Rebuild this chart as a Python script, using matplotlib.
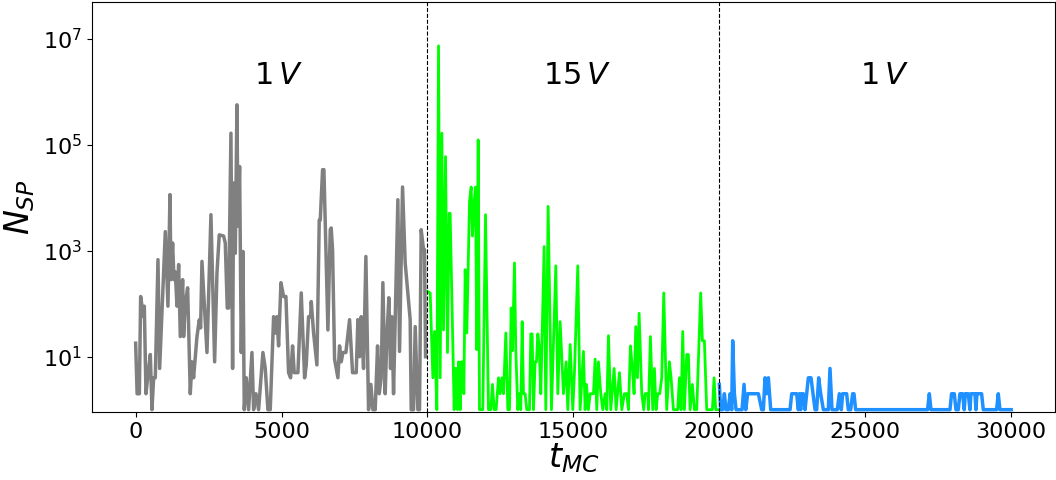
import matplotlib
matplotlib.use('Agg')
import matplotlib.pyplot as plt
from matplotlib.ticker import NullLocator

# Phase 1: 1 V (gray)
t_1v_a = [0, 50, 127, 171, 217, 274, 297, 354, 411, 503, 559, 616, 673, 765, 822,
          1016, 1107, 1176, 1210, 1267, 1313, 1359, 1416, 1473, 1530, 1610, 1644, 1701,
          1781, 1872, 1929, 1986, 2101, 2181, 2226, 2272, 2444, 2580, 2706, 2786, 2865,
          3014, 3071, 3139, 3185, 3265, 3322, 3357, 3414, 3471, 3505, 3562, 3619, 3676,
          3722, 3790, 3870, 3985, 4042, 4122, 4213, 4361, 4441, 4532, 4612, 4727, 4784,
          4841, 4898, 4978, 5069, 5149, 5240, 5309, 5377, 5434, 5560, 5674, 5789, 5846,
          5925, 5994, 6017, 6097, 6211, 6291, 6326, 6405, 6451, 6588, 6668, 6701, 6747,
          6816, 6930, 6987, 7044, 7101, 7204, 7330, 7432, 7558, 7615, 7672, 7729, 7809,
          7889, 7980, 8060, 8129, 8209, 8289, 8346, 8414, 8471, 8551, 8608, 8677, 8734,
          8779, 8837, 8985, 9042, 9145, 9236, 9407, 9442, 9522, 9579, 9670, 9727, 9784,
          9864, 9898, 9933]
n_1v_a = [18, 2, 2, 137, 90, 57, 90, 2, 4, 11, 1, 4, 4, 680, 6,
          2300, 90, 11500, 285, 1400, 285, 400, 90, 550, 24, 285, 24, 100,
          200, 2, 8, 4, 24, 50, 35, 630, 12, 4800, 8, 380, 2000,
          1900, 1400, 83, 83, 166000, 6, 19000, 900, 570000, 2900, 39000, 12, 970,
          1, 4, 1, 12, 1, 2, 1, 12, 6, 1, 1, 57, 28,
          57, 16, 250, 137, 137, 5, 4, 16, 5, 5, 160, 4, 7,
          57, 57, 110, 28, 7, 3800, 3800, 34000, 34000, 32, 2500, 2700, 1050,
          9, 4, 16, 8, 12, 12, 50, 5, 5, 50, 10, 57, 6,
          780, 1, 3, 1, 1, 16, 2, 4, 250, 2, 24, 130, 6,
          57, 2, 9200, 12.6, 16000, 590, 50, 1, 1, 37, 1, 1, 2500,
          1050, 1050, 10]

# Phase 2: 15 V (green)
t_15v = [10000, 10093, 10184, 10241, 10321, 10378, 10435, 10492, 10549, 10618, 10686,
         10743, 10777, 10914, 10949, 10983, 11029, 11063, 11120, 11154, 11211, 11246,
         11291, 11348, 11440, 11497, 11542, 11600, 11645, 11690, 11737, 11782, 11896,
         11988, 12090, 12170, 12227, 12285, 12353, 12433, 12490, 12547, 12604, 12684,
         12753, 12810, 12867, 12912, 12981, 13026, 13095, 13152, 13197, 13244, 13289,
         13346, 13403, 13495, 13540, 13586, 13632, 13689, 13734, 13780, 13826, 13883,
         13997, 14054, 14134, 14248, 14397, 14465, 14545, 14659, 14751, 14808, 14888,
         14979, 15036, 15150, 15230, 15344, 15401, 15447, 15515, 15573, 15687, 15744,
         15801, 15858, 15938, 16007, 16087, 16144, 16201, 16281, 16395, 16464, 16577,
         16657, 16748, 16828, 16885, 16954, 17022, 17079, 17136, 17194, 17251, 17342,
         17411, 17456, 17548, 17570, 17639, 17719, 17776, 17833, 17890, 17958, 18027,
         18096, 18198, 18290, 18347, 18427, 18574, 18632, 18689, 18746, 18803, 18883,
         18940, 18998, 19077, 19146, 19226, 19361, 19420, 19488, 19568, 19762, 19820,
         19875, 20000]
n_15v = [170, 160, 4, 30, 1, 7.4e6, 4, 166000, 32, 60000, 12,
         5100, 5100, 1, 6, 6, 1, 8, 1, 8, 8, 2,
         440, 28, 8500, 16000, 1900, 8500, 16000, 13.6, 124000, 1, 1,
         4800, 1, 1, 3, 1, 1, 4, 2, 4, 2, 28,
         1, 1, 83, 13, 590, 13, 1, 2, 1, 46, 2,
         2, 1, 1, 27, 27, 1, 8, 8, 27, 16, 2,
         1200, 1, 6900, 1, 520, 2, 46, 2, 8, 1, 17,
         1, 5, 520, 1, 12.6, 1, 3, 1, 2, 2, 9,
         1, 8, 2, 1, 2, 1, 25, 1, 6, 1, 5,
         1, 2, 2, 1, 16, 6, 2, 37, 4, 66, 2,
         1, 2, 2, 1, 24, 1, 6, 1, 2, 2, 4,
         160, 1, 8, 4, 1, 1, 4, 1, 30, 1, 11,
         11, 1, 3, 1, 1, 160, 20, 20, 1, 1, 4,
         1, 1]

# Phase 3: 1 V (blue)
t_1v_b = [20000, 20047, 20115, 20173, 20230, 20310, 20367, 20424, 20458, 20516, 20573,
          20779, 20847, 20904, 20972, 21338, 21452, 21509, 21566, 21623, 21680, 21760,
          22423, 22480, 22651, 22708, 22742, 22788, 22822, 22879, 22936, 23050, 23142,
          23279, 23336, 23404, 23473, 23564, 23735, 23792, 23861, 24043, 24112, 24180,
          24226, 24363, 24420, 24500, 24569, 24614, 24670, 27136, 27195, 27252, 27903,
          27958, 28051, 28108, 28188, 28245, 28336, 28393, 28428, 28530, 28588, 28622,
          28759, 28793, 28828, 28987, 29044, 29500, 29558, 29615, 30000]
n_1v_b = [3, 1, 1, 2, 1, 1, 2, 1, 20, 2, 1,
          1, 3, 1, 2, 2, 1, 1, 4, 2, 4, 1,
          1, 2, 2, 1, 2, 1, 2, 2, 1, 4, 4,
          1, 1, 4, 2, 1, 1, 6, 1, 1, 2, 1,
          2, 2, 1, 1, 2, 2, 1, 1, 2, 1, 1,
          2, 2, 1, 1, 2, 2, 1, 2, 2, 1, 2,
          2, 1, 2, 2, 1, 1, 2, 1, 1]

phase_bounds = [10000, 20000]
phase_labels = [r'$1\,V$', r'$15\,V$', r'$1\,V$']
label_x = [4900, 15140, 25650]

fig = plt.figure(figsize=(10.56, 4.8), dpi=100)
ax = fig.add_subplot(111)
fig.subplots_adjust(left=0.087, right=0.999, bottom=0.142, top=0.996)

ax.plot(t_1v_a, n_1v_a, color='gray', lw=2.5)
ax.plot(t_15v, n_15v, color='lime', lw=2)
ax.plot(t_1v_b, n_1v_b, color='dodgerblue', lw=2.5)

for xb in phase_bounds:
    ax.axvline(xb, color='k', ls='--', lw=0.8)

for xl, lab in zip(label_x, phase_labels):
    ax.text(xl, 2.0e6, lab, fontsize=22, ha='center', va='center')

ax.set_yscale('log')
ax.set_ylim(0.91, 5e7)
ax.set_yticks([1e1, 1e3, 1e5, 1e7])
ax.yaxis.set_minor_locator(NullLocator())
ax.set_xticks([0, 5000, 10000, 15000, 20000, 25000, 30000])
ax.tick_params(labelsize=16)

ax.set_xlabel(r'$t_{MC}$', fontsize=24, labelpad=0)
ax.set_ylabel(r'$N_{SP}$', fontsize=24)

plt.savefig('out.png', dpi=100)
